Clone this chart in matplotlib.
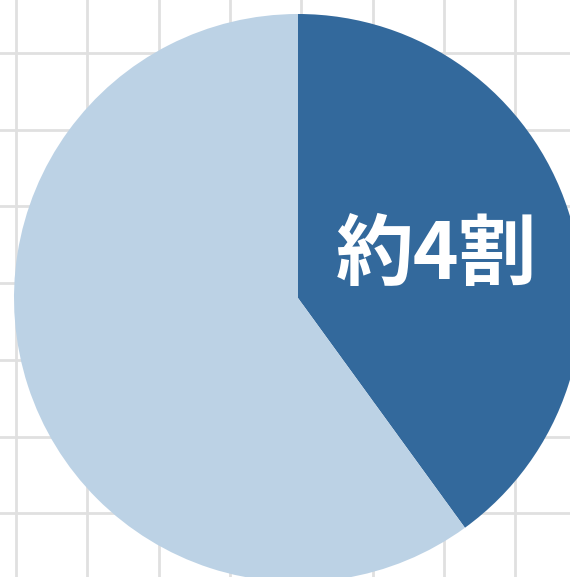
import matplotlib
matplotlib.use("Agg")
import matplotlib.pyplot as plt

categories = ["約4割", "その他"]
values = [40, 60]
colors = ["#33699c", "#bcd2e5"]

fig = plt.figure(figsize=(5.70, 5.77), dpi=100)
ax = fig.add_axes([0, 0, 1, 1])
ax.set_xlim(0, 570)
ax.set_ylim(0, 577)
ax.set_aspect("equal")

# background grid
xg = [16 + 71.3 * i for i in range(9)]
yg = [577 - (53 + 76.7 * i) for i in range(7)]
ax.set_xticks(xg)
ax.set_yticks(yg)
ax.grid(True, color="#e0e0e0", linewidth=2.0)
ax.set_axisbelow(True)
ax.tick_params(length=0, labelbottom=False, labelleft=False)
for s in ax.spines.values():
    s.set_visible(False)

wedges, _ = ax.pie(values, colors=colors, startangle=90, counterclock=False,
                   center=(298, 577 - 298), radius=284, frame=True,
                   wedgeprops=dict(linewidth=0))
ax.set_xlim(0, 570)
ax.set_ylim(0, 577)

ax.text(436, 577 - 256, categories[0], color="white", fontsize=56, fontweight="bold",
        ha="center", va="center", family=["Noto Sans CJK JP", "DejaVu Sans"])

fig.savefig("out.png", dpi=100)
